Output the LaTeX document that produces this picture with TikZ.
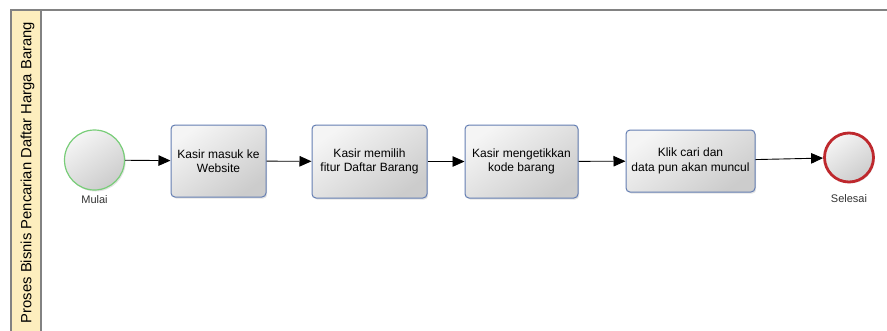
\documentclass[tikz,border=0pt]{standalone}
\usepackage{fontspec}
\setmainfont{Liberation Sans}
\usetikzlibrary{arrows.meta,shadows}

\definecolor{laneyellow}{RGB}{253,238,190}
\definecolor{poolgray}{RGB}{130,130,130}
\definecolor{taskblue}{RGB}{100,126,178}
\definecolor{startgreen}{RGB}{120,205,120}
\definecolor{endred}{RGB}{190,40,45}
\definecolor{labelgray}{RGB}{50,50,50}

\tikzset{
  softshadow/.style={drop shadow={opacity=0.22, shadow xshift=1.2pt, shadow yshift=-1.5pt}},
  greyfill/.style={shading=axis, left color=white!96!black, right color=black!20, shading angle=35},
  task/.style={draw=taskblue, line width=1pt, rounded corners=4pt, greyfill, softshadow,
    align=center, text=black, font=\fontsize{12}{14.5}\selectfont, inner sep=2pt},
  startevent/.style={circle, draw=startgreen, line width=1.2pt, minimum size=60pt, greyfill, softshadow},
  endevent/.style={circle, draw=endred, line width=2.8pt, minimum size=49pt, greyfill, softshadow},
  evlabel/.style={text=labelgray, font=\fontsize{11}{12}\selectfont},
  flow/.style={draw=black, line width=0.9pt, -{Triangle[length=12pt,width=10.5pt]}},
}

\begin{document}
\begin{tikzpicture}[x=1pt,y=-1pt]
  \useasboundingbox (0,0) rectangle (887,330);

  % pool and its vertical lane header
  \fill[laneyellow] (11,10) rectangle (41,332);
  \draw[poolgray, line width=1.6pt] (11,332) -- (11,10) -- (889,10);
  \draw[poolgray, line width=1.1pt] (41,10) -- (41,332);
  \node[rotate=90, font=\fontsize{14.8}{16}\selectfont, text=black] (lanetitle) at (27.5,172.5)
    {Proses Bisnis Pencarian Daftar Harga Barang};

  % events
  \node[startevent] (start) at (94.5,160) {};
  \node[evlabel] (startlbl) at (94.5,200) {Mulai};
  \node[endevent] (finish) at (849,157.5) {};
  \node[evlabel] (finishlbl) at (849,199) {Selesai};

  % tasks
  \node[task, minimum width=95pt, minimum height=72pt] (t1) at (218.5,161)
    {Kasir masuk ke\\Website};
  \node[task, minimum width=115pt, minimum height=73pt] (t2) at (369.5,161.5)
    {Kasir memilih\\fitur Daftar Barang};
  \node[task, minimum width=113pt, minimum height=73pt] (t3) at (521.5,161.5)
    {Kasir mengetikkan\\kode barang};
  \node[task, minimum width=129pt, minimum height=62pt] (t4) at (690.5,161)
    {Klik cari dan\\data pun akan muncul};

  % sequence flows
  \draw[flow] (start) -- (t1);
  \draw[flow] (t1) -- (t2);
  \draw[flow] (t2) -- (t3);
  \draw[flow] (t3) -- (t4);
  \draw[flow] (t4) -- (finish);
\end{tikzpicture}
\end{document}
